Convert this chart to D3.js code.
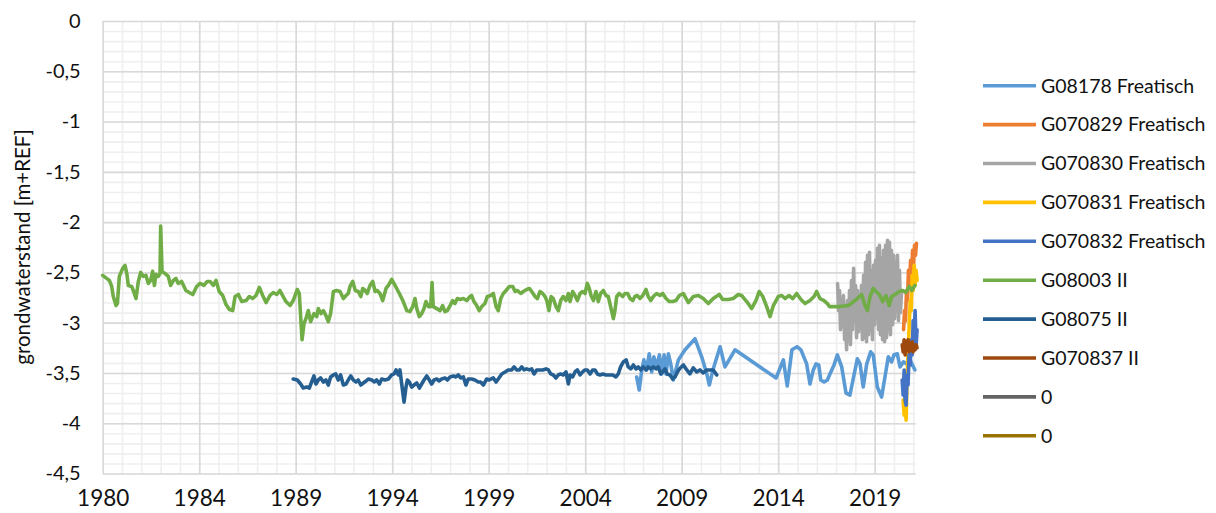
<!DOCTYPE html>
<html>
<head>
<meta charset="utf-8">
<script src="https://cdn.jsdelivr.net/npm/d3@7"></script>
<style>
  body { margin: 0; background: #fff; }
  svg { display: block; font-family: "Lato", "DejaVu Sans", sans-serif; }
</style>
</head>
<body>
<div id="chart"></div>
<script>
// series: [decimal year, grondwaterstand]
var g08178 = [[2007.27,-3.54],[2007.40,-3.67],[2007.53,-3.47],[2007.64,-3.37],[2007.78,-3.47],[2007.91,-3.31],[2008.04,-3.49],[2008.15,-3.34],[2008.29,-3.44],[2008.43,-3.32],[2008.55,-3.51],[2008.67,-3.32],[2008.77,-3.51],[2008.89,-3.31],[2009.01,-3.41],[2009.14,-3.57],[2009.40,-3.37],[2009.74,-3.27],[2010.25,-3.16],[2010.59,-3.34],[2010.85,-3.51],[2010.98,-3.62],[2011.18,-3.46],[2011.53,-3.24],[2011.78,-3.44],[2012.29,-3.27],[2014.39,-3.55],[2014.76,-3.37],[2014.96,-3.63],[2015.20,-3.27],[2015.46,-3.24],[2015.66,-3.27],[2015.95,-3.41],[2016.12,-3.61],[2016.29,-3.47],[2016.43,-3.41],[2016.57,-3.42],[2016.67,-3.57],[2016.84,-3.59],[2017.01,-3.57],[2017.14,-3.51],[2017.35,-3.42],[2017.52,-3.32],[2017.74,-3.44],[2017.96,-3.70],[2018.16,-3.72],[2018.37,-3.52],[2018.54,-3.36],[2018.68,-3.41],[2018.84,-3.64],[2019.02,-3.41],[2019.22,-3.29],[2019.35,-3.32],[2019.56,-3.64],[2019.78,-3.74],[2019.95,-3.54],[2020.12,-3.34],[2020.29,-3.39],[2020.41,-3.32],[2020.58,-3.31],[2020.72,-3.44],[2020.89,-3.39],[2021.06,-3.41],[2021.23,-3.37],[2021.48,-3.47]];

var g070829 = [[2020.90,-3.07],[2020.95,-2.88],[2021.00,-2.98],[2021.05,-2.68],[2021.10,-2.78],[2021.15,-2.48],[2021.20,-2.63],[2021.26,-2.38],[2021.31,-2.53],[2021.36,-2.28],[2021.41,-2.43],[2021.46,-2.23],[2021.51,-2.33],[2021.56,-2.21]];

var g070830 = [[2017.53,-2.61],[2017.58,-2.88],[2017.63,-2.68],[2017.68,-3.07],[2017.73,-2.78],[2017.78,-2.98],[2017.83,-2.73],[2017.89,-3.17],[2017.94,-2.83],[2017.99,-3.27],[2018.04,-2.78],[2018.09,-3.12],[2018.14,-2.68],[2018.19,-3.22],[2018.24,-2.58],[2018.29,-3.07],[2018.35,-2.46],[2018.40,-2.98],[2018.45,-2.63],[2018.50,-3.15],[2018.55,-2.68],[2018.60,-3.09],[2018.65,-2.78],[2018.70,-3.02],[2018.75,-2.63],[2018.80,-3.17],[2018.86,-2.53],[2018.91,-3.15],[2018.96,-2.40],[2019.01,-3.19],[2019.06,-2.33],[2019.11,-3.12],[2019.16,-2.30],[2019.21,-3.07],[2019.26,-2.48],[2019.31,-3.17],[2019.37,-2.43],[2019.42,-3.02],[2019.47,-2.38],[2019.52,-2.96],[2019.57,-2.26],[2019.62,-3.07],[2019.67,-2.23],[2019.72,-3.12],[2019.77,-2.36],[2019.83,-3.17],[2019.88,-2.28],[2019.93,-3.19],[2019.98,-2.23],[2020.03,-3.15],[2020.08,-2.18],[2020.13,-3.07],[2020.18,-2.20],[2020.23,-3.12],[2020.28,-2.28],[2020.34,-3.02],[2020.39,-2.33],[2020.44,-2.96],[2020.49,-2.40],[2020.54,-2.88],[2020.59,-2.33],[2020.64,-2.98],[2020.69,-2.48],[2020.74,-2.90],[2020.80,-2.68]];

var g070831 = [[2020.88,-3.77],[2020.93,-3.92],[2020.98,-3.72],[2021.03,-3.97],[2021.08,-3.57],[2021.13,-3.27],[2021.18,-3.07],[2021.24,-2.78],[2021.29,-2.88],[2021.34,-2.53],[2021.39,-2.68],[2021.44,-2.43],[2021.49,-2.63],[2021.54,-2.48],[2021.59,-2.58]];

var g070832 = [[2020.83,-3.57],[2020.88,-3.72],[2020.93,-3.47],[2020.98,-3.77],[2021.03,-3.82],[2021.08,-3.52],[2021.13,-3.62],[2021.18,-3.32],[2021.24,-3.42],[2021.29,-3.17],[2021.34,-3.32],[2021.39,-2.98],[2021.44,-3.12],[2021.49,-2.88],[2021.54,-3.23],[2021.59,-3.07]];

var g08003 = [[1980.00,-2.53],[1980.20,-2.56],[1980.34,-2.58],[1980.46,-2.64],[1980.54,-2.74],[1980.68,-2.83],[1980.75,-2.81],[1980.85,-2.54],[1981.02,-2.46],[1981.14,-2.43],[1981.23,-2.51],[1981.31,-2.63],[1981.48,-2.64],[1981.56,-2.68],[1981.70,-2.76],[1981.82,-2.59],[1981.94,-2.50],[1982.07,-2.54],[1982.21,-2.53],[1982.33,-2.61],[1982.45,-2.58],[1982.55,-2.49],[1982.64,-2.63],[1982.72,-2.52],[1982.84,-2.54],[1982.93,-2.51],[1982.96,-2.04],[1983.03,-2.49],[1983.18,-2.51],[1983.35,-2.54],[1983.47,-2.63],[1983.61,-2.58],[1983.74,-2.56],[1983.86,-2.61],[1984.03,-2.59],[1984.25,-2.68],[1984.42,-2.70],[1984.60,-2.72],[1984.80,-2.64],[1984.97,-2.61],[1985.17,-2.63],[1985.34,-2.59],[1985.48,-2.59],[1985.65,-2.63],[1985.79,-2.58],[1985.95,-2.69],[1986.13,-2.73],[1986.30,-2.82],[1986.47,-2.87],[1986.64,-2.88],[1986.76,-2.74],[1986.93,-2.72],[1987.10,-2.79],[1987.32,-2.78],[1987.49,-2.74],[1987.66,-2.76],[1987.83,-2.73],[1988.00,-2.65],[1988.17,-2.73],[1988.34,-2.80],[1988.54,-2.73],[1988.71,-2.70],[1988.89,-2.72],[1989.05,-2.68],[1989.19,-2.73],[1989.36,-2.79],[1989.57,-2.83],[1989.73,-2.78],[1989.94,-2.67],[1990.04,-2.71],[1990.18,-3.17],[1990.28,-3.01],[1990.38,-2.96],[1990.50,-2.88],[1990.62,-2.99],[1990.79,-2.91],[1990.93,-2.94],[1991.01,-2.86],[1991.15,-2.91],[1991.27,-2.88],[1991.40,-2.93],[1991.52,-2.99],[1991.64,-2.91],[1991.78,-2.69],[1991.95,-2.68],[1992.12,-2.69],[1992.29,-2.76],[1992.43,-2.73],[1992.54,-2.71],[1992.63,-2.64],[1992.77,-2.59],[1992.90,-2.68],[1993.05,-2.69],[1993.18,-2.74],[1993.28,-2.66],[1993.40,-2.68],[1993.51,-2.71],[1993.65,-2.63],[1993.79,-2.59],[1993.91,-2.69],[1994.02,-2.68],[1994.16,-2.71],[1994.30,-2.78],[1994.47,-2.66],[1994.59,-2.63],[1994.76,-2.57],[1994.93,-2.63],[1995.15,-2.71],[1995.35,-2.79],[1995.53,-2.88],[1995.69,-2.89],[1995.83,-2.84],[1995.95,-2.76],[1996.04,-2.86],[1996.17,-2.94],[1996.29,-2.91],[1996.41,-2.86],[1996.51,-2.79],[1996.63,-2.84],[1996.75,-2.84],[1996.82,-2.60],[1996.88,-2.84],[1997.06,-2.86],[1997.23,-2.88],[1997.36,-2.83],[1997.48,-2.89],[1997.60,-2.88],[1997.74,-2.83],[1997.87,-2.78],[1997.99,-2.81],[1998.11,-2.76],[1998.25,-2.77],[1998.42,-2.76],[1998.59,-2.78],[1998.76,-2.74],[1998.84,-2.73],[1998.96,-2.79],[1999.10,-2.83],[1999.23,-2.88],[1999.36,-2.84],[1999.52,-2.81],[1999.64,-2.74],[1999.82,-2.73],[1999.95,-2.71],[2000.09,-2.84],[2000.20,-2.88],[2000.33,-2.76],[2000.46,-2.71],[2000.60,-2.68],[2000.77,-2.64],[2000.94,-2.64],[2001.06,-2.69],[2001.17,-2.68],[2001.35,-2.71],[2001.48,-2.69],[2001.65,-2.67],[2001.79,-2.66],[2001.91,-2.69],[2002.08,-2.74],[2002.20,-2.76],[2002.33,-2.69],[2002.47,-2.71],[2002.59,-2.74],[2002.68,-2.78],[2002.79,-2.88],[2002.90,-2.74],[2003.01,-2.76],[2003.15,-2.84],[2003.27,-2.88],[2003.39,-2.78],[2003.52,-2.74],[2003.66,-2.78],[2003.78,-2.71],[2003.87,-2.79],[2004.00,-2.69],[2004.12,-2.73],[2004.24,-2.78],[2004.38,-2.71],[2004.51,-2.69],[2004.63,-2.71],[2004.75,-2.61],[2004.85,-2.66],[2004.94,-2.73],[2005.06,-2.78],[2005.19,-2.69],[2005.31,-2.79],[2005.43,-2.71],[2005.57,-2.68],[2005.70,-2.73],[2005.82,-2.74],[2005.94,-2.84],[2006.08,-2.96],[2006.16,-2.88],[2006.25,-2.74],[2006.38,-2.71],[2006.56,-2.74],[2006.67,-2.71],[2006.81,-2.71],[2006.93,-2.76],[2007.07,-2.78],[2007.18,-2.74],[2007.30,-2.73],[2007.44,-2.76],[2007.58,-2.73],[2007.75,-2.67],[2007.86,-2.74],[2007.99,-2.78],[2008.12,-2.74],[2008.29,-2.71],[2008.46,-2.73],[2008.60,-2.71],[2008.77,-2.76],[2008.94,-2.79],[2009.11,-2.79],[2009.28,-2.78],[2009.45,-2.73],[2009.65,-2.71],[2009.91,-2.80],[2010.16,-2.74],[2010.42,-2.73],[2010.67,-2.76],[2010.93,-2.81],[2011.18,-2.76],[2011.49,-2.72],[2011.66,-2.77],[2011.95,-2.77],[2012.20,-2.76],[2012.46,-2.72],[2012.63,-2.73],[2012.89,-2.79],[2013.14,-2.86],[2013.36,-2.78],[2013.53,-2.69],[2013.71,-2.74],[2013.91,-2.84],[2014.08,-2.94],[2014.25,-2.83],[2014.50,-2.74],[2014.68,-2.73],[2014.85,-2.76],[2015.06,-2.73],[2015.24,-2.76],[2015.44,-2.71],[2015.66,-2.77],[2015.87,-2.81],[2016.12,-2.78],[2016.33,-2.74],[2016.46,-2.69],[2016.63,-2.76],[2016.84,-2.78],[2017.01,-2.81],[2017.11,-2.84],[2017.31,-2.84],[2017.57,-2.84],[2017.65,-2.84],[2018.08,-2.83],[2018.42,-2.78],[2018.76,-2.72],[2018.93,-2.83],[2019.05,-2.88],[2019.19,-2.74],[2019.35,-2.66],[2019.49,-2.69],[2019.66,-2.72],[2019.83,-2.79],[2020.00,-2.73],[2020.17,-2.83],[2020.29,-2.74],[2020.46,-2.72],[2020.68,-2.69],[2020.86,-2.68],[2021.02,-2.70],[2021.19,-2.64],[2021.32,-2.68],[2021.48,-2.63]];

var g08075 = [[1989.73,-3.56],[1989.94,-3.57],[1990.11,-3.61],[1990.24,-3.65],[1990.42,-3.64],[1990.55,-3.65],[1990.67,-3.59],[1990.79,-3.53],[1990.89,-3.61],[1991.01,-3.57],[1991.13,-3.55],[1991.27,-3.59],[1991.40,-3.57],[1991.52,-3.62],[1991.64,-3.54],[1991.78,-3.52],[1991.90,-3.51],[1992.03,-3.57],[1992.15,-3.52],[1992.29,-3.62],[1992.43,-3.61],[1992.54,-3.57],[1992.67,-3.53],[1992.80,-3.57],[1992.94,-3.59],[1993.05,-3.57],[1993.18,-3.62],[1993.31,-3.60],[1993.45,-3.58],[1993.56,-3.56],[1993.74,-3.57],[1993.86,-3.59],[1993.99,-3.57],[1994.13,-3.61],[1994.25,-3.56],[1994.42,-3.57],[1994.59,-3.56],[1994.76,-3.52],[1994.88,-3.51],[1994.98,-3.47],[1995.10,-3.52],[1995.18,-3.47],[1995.27,-3.61],[1995.39,-3.79],[1995.49,-3.64],[1995.56,-3.57],[1995.66,-3.59],[1995.78,-3.64],[1995.90,-3.62],[1996.04,-3.60],[1996.17,-3.65],[1996.29,-3.61],[1996.41,-3.57],[1996.55,-3.53],[1996.68,-3.57],[1996.80,-3.61],[1996.92,-3.57],[1997.06,-3.56],[1997.19,-3.58],[1997.31,-3.56],[1997.48,-3.55],[1997.60,-3.57],[1997.74,-3.54],[1997.91,-3.53],[1998.04,-3.54],[1998.16,-3.52],[1998.28,-3.55],[1998.42,-3.54],[1998.55,-3.62],[1998.67,-3.56],[1998.84,-3.56],[1999.01,-3.57],[1999.18,-3.59],[1999.30,-3.59],[1999.44,-3.62],[1999.61,-3.56],[1999.74,-3.57],[1999.95,-3.55],[2000.09,-3.59],[2000.20,-3.56],[2000.38,-3.51],[2000.55,-3.49],[2000.71,-3.47],[2000.89,-3.47],[2001.01,-3.44],[2001.14,-3.47],[2001.28,-3.47],[2001.40,-3.44],[2001.52,-3.47],[2001.65,-3.46],[2001.79,-3.47],[2001.91,-3.46],[2002.03,-3.51],[2002.16,-3.47],[2002.30,-3.47],[2002.47,-3.47],[2002.64,-3.46],[2002.76,-3.47],[2002.88,-3.51],[2003.01,-3.52],[2003.15,-3.55],[2003.27,-3.52],[2003.39,-3.51],[2003.52,-3.52],[2003.66,-3.49],[2003.78,-3.61],[2003.87,-3.52],[2004.00,-3.54],[2004.12,-3.49],[2004.24,-3.47],[2004.38,-3.52],[2004.51,-3.49],[2004.63,-3.47],[2004.75,-3.47],[2004.89,-3.51],[2005.02,-3.47],[2005.14,-3.47],[2005.26,-3.51],[2005.40,-3.52],[2005.54,-3.51],[2005.70,-3.52],[2005.87,-3.52],[2006.05,-3.52],[2006.21,-3.54],[2006.33,-3.51],[2006.45,-3.44],[2006.59,-3.39],[2006.73,-3.37],[2006.84,-3.44],[2006.97,-3.46],[2007.10,-3.42],[2007.24,-3.46],[2007.35,-3.44],[2007.48,-3.47],[2007.61,-3.44],[2007.75,-3.47],[2007.86,-3.44],[2007.99,-3.46],[2008.12,-3.44],[2008.26,-3.46],[2008.37,-3.44],[2008.50,-3.51],[2008.60,-3.49],[2008.72,-3.46],[2008.83,-3.51],[2008.97,-3.52],[2009.11,-3.56],[2009.23,-3.54],[2009.35,-3.49],[2009.45,-3.46],[2009.65,-3.42],[2009.83,-3.47],[2009.99,-3.51],[2010.16,-3.45],[2010.34,-3.49],[2010.50,-3.47],[2010.67,-3.50],[2010.85,-3.47],[2011.02,-3.47],[2011.18,-3.47],[2011.36,-3.52]];

var g070837 = [[2020.83,-3.22],[2020.88,-3.29],[2020.93,-3.17],[2020.98,-3.32],[2021.03,-3.19],[2021.08,-3.27],[2021.13,-3.17],[2021.18,-3.29],[2021.24,-3.20],[2021.29,-3.27],[2021.34,-3.19],[2021.39,-3.29],[2021.44,-3.22],[2021.49,-3.27],[2021.54,-3.22],[2021.59,-3.25]];

var empty1 = [];
var empty2 = [];

var seriesNames = ["G08178 Freatisch", "G070829 Freatisch", "G070830 Freatisch", "G070831 Freatisch", "G070832 Freatisch", "G08003 II", "G08075 II", "G070837 II", "0", "0"];
var seriesData = [g08178, g070829, g070830, g070831, g070832, g08003, g08075, g070837, empty1, empty2];
var colors = ["#5b9bd5", "#ed7d31", "#a5a5a5", "#ffc000", "#4472c4", "#70ad47", "#255e91", "#9e480e", "#636363", "#997300"];

var yTicks = [0, -0.5, -1, -1.5, -2, -2.5, -3, -3.5, -4, -4.5];
var xStart = 1980, xEnd = 2021.52;
var majorStep = 1800 / 365.25, minorStep = 360 / 365.25;  // excel date axis units in days

var width = 1216, height = 513;
var margin = {left: 102.7, right: 300.3, top: 21, bottom: 39.5};
var plotW = width - margin.left - margin.right;
var plotH = height - margin.top - margin.bottom;

var svg = d3.select("#chart").append("svg")
    .attr("width", width)
    .attr("height", height);

var x = d3.scaleLinear().domain([xStart, xEnd]).range([0, plotW]);
var y = d3.scaleLinear().domain([-4.5, 0]).range([plotH, 0]);

var g = svg.append("g").attr("transform", "translate(" + margin.left + "," + margin.top + ")");

var xMajor = d3.range(0, 9).map(function(i) { return xStart + i * majorStep; });
var xMinor = d3.range(xStart, xEnd + 0.001, minorStep);
var yMinor = d3.range(0, 46).map(function(i) { return -i / 10; });

// minor gridlines
g.append("g")
    .attr("class", "grid-minor")
    .call(d3.axisLeft(y).tickValues(yMinor).tickSize(-plotW).tickFormat(""));
g.append("g")
    .attr("class", "grid-minor")
    .attr("transform", "translate(0," + plotH + ")")
    .call(d3.axisBottom(x).tickValues(xMinor).tickSize(-plotH).tickFormat(""));

// major gridlines
g.append("g")
    .attr("class", "grid-major")
    .call(d3.axisLeft(y).tickValues(yTicks).tickSize(-plotW).tickFormat(""));
g.append("g")
    .attr("class", "grid-major")
    .attr("transform", "translate(0," + plotH + ")")
    .call(d3.axisBottom(x).tickValues(xMajor).tickSize(-plotH).tickFormat(""));

svg.selectAll(".grid-minor line").attr("stroke", "#efefef").attr("stroke-width", 1.6);
svg.selectAll(".grid-major line").attr("stroke", "#d9d9d9").attr("stroke-width", 1.6);
svg.selectAll(".grid-minor .domain, .grid-major .domain").remove();

// tick labels
var yAxis = g.append("g")
    .call(d3.axisLeft(y).tickValues(yTicks).tickSize(0).tickPadding(22)
        .tickFormat(function(d) { return String(d).replace(".", ","); }));
yAxis.select(".domain").remove();
yAxis.selectAll("text").attr("font-size", 20).attr("fill", "#111").attr("font-family", "Lato, sans-serif");

var xAxis = g.append("g")
    .attr("transform", "translate(0," + plotH + ")")
    .call(d3.axisBottom(x).tickValues(xMajor).tickSize(0).tickPadding(17)
        .tickFormat(function(d) { return Math.floor(d + 1e-6); }));
xAxis.select(".domain").remove();
xAxis.selectAll("text").attr("font-size", 22.5).attr("fill", "#111").attr("font-family", "Lato, sans-serif");

// y axis title
svg.append("text")
    .attr("transform", "translate(25," + 247 + ") rotate(-90)")
    .attr("text-anchor", "middle")
    .attr("dominant-baseline", "middle")
    .attr("font-size", 20.5)
    .attr("fill", "#111")
    .text("grondwaterstand [m+REF]");

// lines
var line = d3.line()
    .x(function(d) { return x(d[0]); })
    .y(function(d) { return y(d[1]); });

g.selectAll(".series")
    .data(seriesData)
    .enter().append("path")
    .attr("class", "series")
    .attr("fill", "none")
    .attr("stroke", function(d, i) { return colors[i]; })
    .attr("stroke-width", 3.6)
    .attr("stroke-linejoin", "round")
    .attr("stroke-linecap", "round")
    .attr("d", function(d) { return d.length ? line(d) : null; });

// legend
var legend = svg.append("g").attr("transform", "translate(983,85.7)");
var item = legend.selectAll(".item")
    .data(seriesNames)
    .enter().append("g")
    .attr("class", "item")
    .attr("transform", function(d, i) { return "translate(0," + (i * 38.9) + ")"; });
item.append("line")
    .attr("x1", 0).attr("x2", 53)
    .attr("stroke", function(d, i) { return colors[i]; })
    .attr("stroke-width", 3.6);
item.append("text")
    .attr("x", 58)
    .attr("dy", "0.35em")
    .attr("font-size", 19.5)
    .attr("fill", "#111")
    .text(function(d) { return d; });
</script>
</body>
</html>
